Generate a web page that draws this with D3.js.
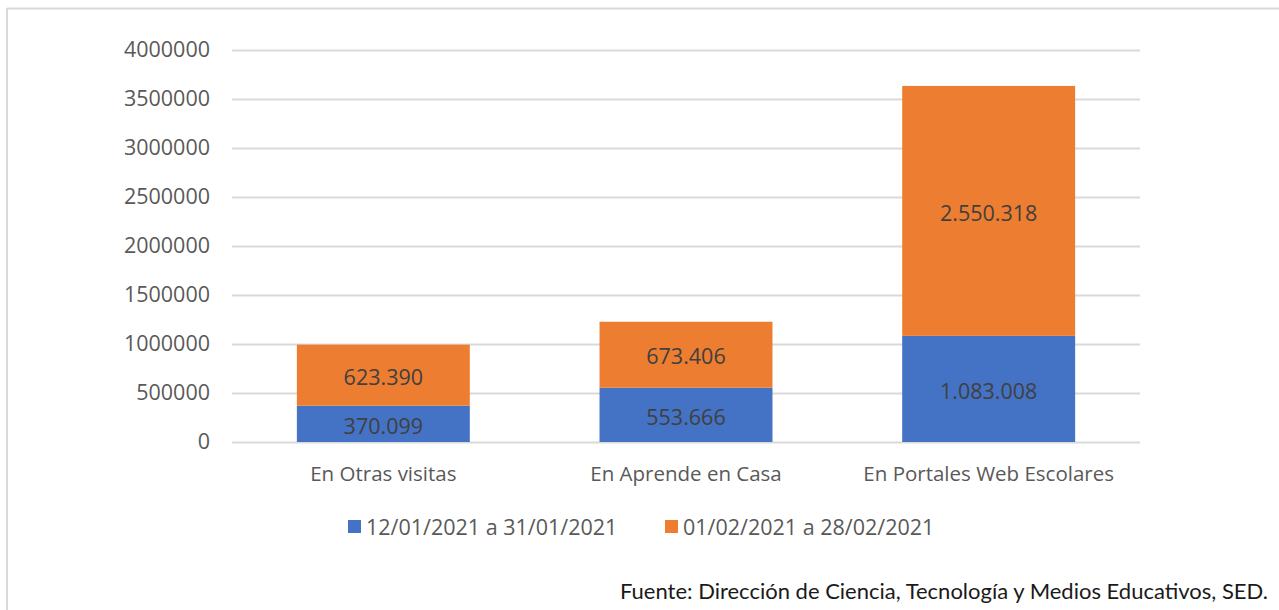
<!DOCTYPE html>
<html><head><meta charset="utf-8">
<script src="https://cdn.jsdelivr.net/npm/d3@7"></script>
<style>
body{margin:0;background:#fff;}
svg{display:block;}
</style></head>
<body>
<script>
const categories = ["En Otras visitas", "En Aprende en Casa", "En Portales Web Escolares"];
const seriesNames = ["12/01/2021 a 31/01/2021", "01/02/2021 a 28/02/2021"];
const series1 = [370099, 553666, 1083008];
const series2 = [623390, 673406, 2550318];
const seriesColors = ["#4472C4", "#ED7D31"];
const yTicks = [0, 500000, 1000000, 1500000, 2000000, 2500000, 3000000, 3500000, 4000000];
const sourceText = "Fuente: Dirección de Ciencia, Tecnología y Medios Educativos, SED.";

const W = 1279, H = 610;
const margin = {left: 232, right: 139, top: 50, bottom: 168};
const svg = d3.select("body").append("svg").attr("width", W).attr("height", H);

// frame
svg.append("line").attr("x1", 7).attr("x2", W).attr("y1", 8.5).attr("y2", 8.5).attr("stroke", "#d9d9d9").attr("stroke-width", 2);
svg.append("line").attr("x1", 7).attr("x2", 7).attr("y1", 8).attr("y2", H).attr("stroke", "#d9d9d9").attr("stroke-width", 2);

const x = d3.scaleBand().domain(categories).range([margin.left, W - margin.right]).paddingInner(0.4286).paddingOuter(0.2143);
const y = d3.scaleLinear().domain([0, 4000000]).range([H - margin.bottom, margin.top]);

const font = "'Segoe UI','Open Sans','Noto Sans',sans-serif";

// gridlines + y labels
const yAxis = d3.axisLeft(y).tickValues(yTicks).tickFormat(d3.format("d")).tickSize(-(W - margin.right - margin.left)).tickPadding(22);
const gy = svg.append("g").attr("transform", `translate(${margin.left},0)`).call(yAxis);
gy.select(".domain").remove();
gy.selectAll(".tick line").attr("stroke", "#d9d9d9").attr("stroke-width", 2);
gy.selectAll(".tick text").attr("fill", "#595959").style("font-family", font).style("font-size", "21.5px");

// stacked data
const data = categories.map((c, i) => ({cat: c, v: [series1[i], series2[i]]}));
const stack = d3.stack().keys([0, 1]).value((d, k) => d.v[k]);
const stacked = stack(data);

const fmt = v => d3.format(",")(v).replace(/,/g, ".");

stacked.forEach((layer, k) => {
  const g = svg.append("g");
  g.selectAll("rect").data(layer).join("rect")
    .attr("x", d => x(d.data.cat))
    .attr("width", x.bandwidth())
    .attr("y", d => y(d[1]))
    .attr("height", d => y(d[0]) - y(d[1]))
    .attr("fill", seriesColors[k]);
  g.selectAll("text").data(layer).join("text")
    .attr("x", d => x(d.data.cat) + x.bandwidth() / 2)
    .attr("y", d => (y(d[0]) + y(d[1])) / 2)
    .attr("dy", "0.45em")
    .attr("text-anchor", "middle")
    .attr("fill", "#404040")
    .style("font-family", font).style("font-size", "21.5px")
    .text(d => fmt(d.data.v[k]));
});

// x axis labels
const xAxis = d3.axisBottom(x).tickSize(0).tickPadding(24);
const gx = svg.append("g").attr("transform", `translate(0,${y(0)})`).call(xAxis);
gx.select(".domain").remove();
gx.selectAll(".tick text").attr("fill", "#595959").style("font-family", font).style("font-size", "20.5px");

// legend
const legendX = [348, 665];
const lg = svg.append("g");
seriesNames.forEach((name, k) => {
  lg.append("rect").attr("x", legendX[k]).attr("y", 520).attr("width", 13).attr("height", 13).attr("fill", seriesColors[k]);
  lg.append("text").attr("x", legendX[k] + 18).attr("y", 527).attr("dy", "0.36em")
    .attr("fill", "#595959").style("font-family", font).style("font-size", "21.5px").text(name);
});

// source
svg.append("text").attr("x", 1268).attr("y", 591).attr("dy", "0.36em").attr("text-anchor", "end")
  .attr("fill", "#1a1a1a").style("font-family", "Lato, 'Liberation Sans', sans-serif").style("font-size", "22px").text(sourceText);
</script>
</body></html>
